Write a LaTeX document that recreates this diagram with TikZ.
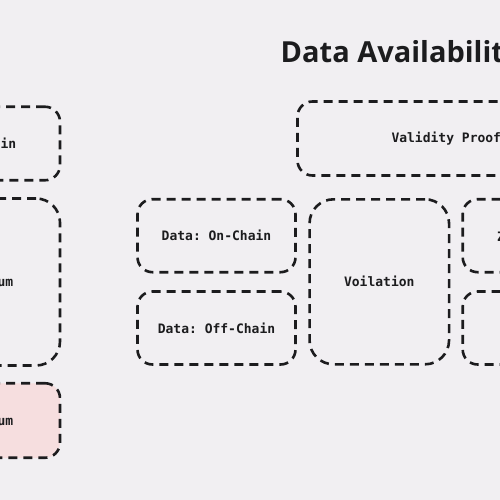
\documentclass[tikz,border=0pt]{standalone}
\usepackage{fontspec}
\setmainfont{Open Sans}
\setmonofont{DejaVu Sans Mono}
\definecolor{bg}{RGB}{241,239,242}
\definecolor{ink}{RGB}{28,28,30}
\definecolor{pinkfill}{RGB}{246,222,223}
\tikzset{
  box/.style={draw=ink, line width=2.6pt, dash pattern=on 9pt off 6pt, rounded corners=15pt, inner sep=0pt},
  bigbox/.style={box, rounded corners=24pt},
  lbl/.style={font=\ttfamily\bfseries\fontsize{13}{15}\selectfont, text=ink, inner sep=0pt},
  title/.style={font=\bfseries\fontsize{29}{34}\selectfont, text=ink, inner sep=0pt}
}
\begin{document}
\begin{tikzpicture}[x=1pt,y=-1pt]
\useasboundingbox (0,0) rectangle (500,500);
\clip (0,0) rectangle (500,500);
\fill[bg] (0,0) rectangle (500,500);
% title
\node[title, anchor=base west] (ttl) at (280.5,62.7) {Data Availability};
% left column (cut off)
\node[box, lbl, minimum width=160pt, minimum height=73.5pt] (ltop) at (-20,143.5) {};
\node[lbl, anchor=base east] (ltoplbl) at (16.5,148) {ain};
\node[bigbox, lbl, minimum width=160pt, minimum height=167pt] (lmid) at (-20,282) {};
\node[lbl, anchor=base east] (lmidlbl) at (13.5,286.6) {um};
\node[box, fill=pinkfill, lbl, minimum width=160pt, minimum height=74.5pt] (lbot) at (-20,420.5) {};
\node[lbl, anchor=base east] (lbotlbl) at (13.5,425.4) {um};
% validity proof box
\node[box, minimum width=320pt, minimum height=74pt] (valid) at (457.5,138.5) {};
\node[lbl, anchor=base west] (validlbl) at (391.3,142.7) {Validity Proof};
% data boxes
\node[box, lbl, minimum width=158pt, minimum height=73pt] (onchain) at (216.5,235.7) {Data: On-Chain};
\node[box, lbl, minimum width=158pt, minimum height=73pt] (offchain) at (216.5,328) {Data: Off-Chain};
% violation
\node[bigbox, lbl, minimum width=139.5pt, minimum height=165pt] (viol) at (379.3,281.8) {Voilation};
% right column (cut off)
\node[box, minimum width=158pt, minimum height=73pt] (rtop) at (541.7,235.7) {};
\node[lbl, anchor=base west] (rtoplbl) at (496.8,241.5) {Z};
\node[box, minimum width=158pt, minimum height=73pt] (rbot) at (541.7,328) {};
\end{tikzpicture}
\end{document}
